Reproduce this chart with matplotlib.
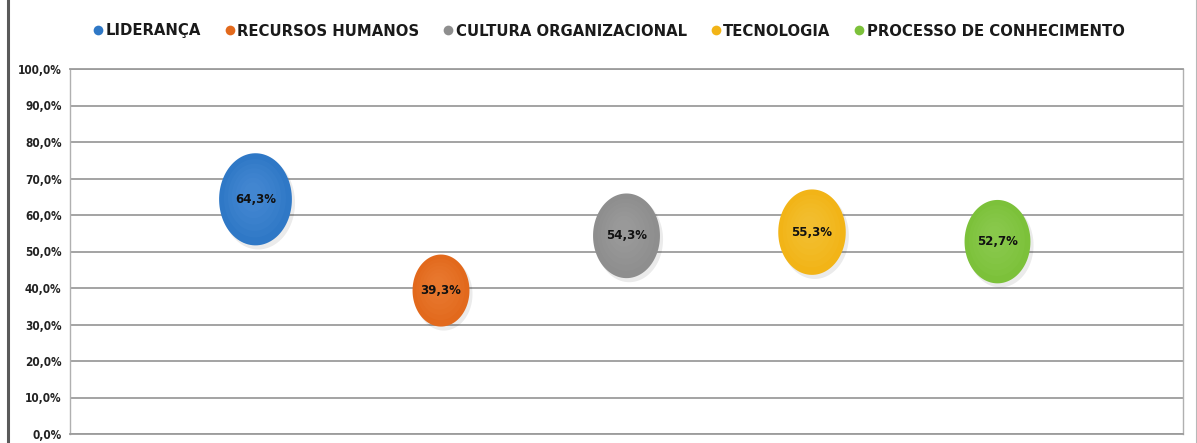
import numpy as np
import matplotlib
matplotlib.use("Agg")
import matplotlib.pyplot as plt
from matplotlib.path import Path
from matplotlib.lines import Line2D

# Data
categories = ["LIDERANÇA", "RECURSOS HUMANOS", "CULTURA ORGANIZACIONAL",
              "TECNOLOGIA", "PROCESSO DE CONHECIMENTO"]
values = [64.3, 39.3, 54.3, 55.3, 52.7]
colors = ["#2f78c6", "#e2691c", "#8e8e8e", "#f2b417", "#7cc13a"]
light_colors = ["#5b9ae0", "#f08a45", "#ababab", "#f8cc4c", "#9ad662"]
ytick_values = np.arange(0, 101, 10)
ytick_labels = [f"{v:.1f}%".replace(".", ",") for v in ytick_values]

# Upright ellipse marker (taller than wide)
theta = np.linspace(0, 2 * np.pi, 100)
ellipse = Path(np.column_stack([0.79 * np.cos(theta), np.sin(theta)]), closed=True)

fig = plt.figure(figsize=(11.97, 4.43), dpi=100)
ax = fig.add_axes([70 / 1197, 9 / 443, 1113 / 1197, 365 / 443])

x = np.arange(1, len(values) + 1)
base = 92.0  # marker height (pt) for the largest value
sizes = [(base * np.sqrt(v / max(values))) ** 2 * 0.52 for v in values]

# soft shadow, body and highlight of each bubble
ax.scatter(x + 0.015, np.array(values) - 1.0, s=[s * 1.02 for s in sizes],
           marker=ellipse, color="#000000", alpha=0.08, linewidths=0, zorder=3)
ax.scatter(x, values, s=sizes, marker=ellipse, c=colors, linewidths=0, zorder=4)
for k in range(6):
    f = 0.85 - k * 0.12
    ax.scatter(x - 0.02 * (1 - f), np.array(values) + 2.0 * (1 - f),
               s=[s * f * f for s in sizes], marker=ellipse,
               c=light_colors, alpha=0.10, linewidths=0, zorder=5)

for xi, v in zip(x, values):
    ax.text(xi, v, f"{v:.1f}%".replace(".", ","), ha="center", va="center",
            fontsize=8.5, fontweight="bold", color="#111111", zorder=6)

ax.set_xlim(0, len(values) + 1)
ax.set_ylim(0, 100)
ax.set_yticks(ytick_values)
ax.set_yticklabels(ytick_labels, fontsize=8.5, fontweight="bold",
                   fontstretch="condensed", color="#222222")
ax.tick_params(axis="y", length=0, pad=6)
ax.set_xticks([])
ax.yaxis.grid(True, color="#9c9c9c", linewidth=1.3)
ax.set_axisbelow(True)
for side in ["left", "right"]:
    ax.spines[side].set_color("#b0b0b0")
    ax.spines[side].set_linewidth(1.0)
for side in ["top", "bottom"]:
    ax.spines[side].set_color("#9c9c9c")
    ax.spines[side].set_linewidth(1.3)

# Legend across the top
handles = [Line2D([], [], marker="o", linestyle="none", markersize=7,
                  markerfacecolor=c, markeredgewidth=0) for c in colors]
fig.legend(handles, categories, loc="center left",
           bbox_to_anchor=(77 / 1197, 1 - 31 / 443), ncol=5, frameon=False,
           handletextpad=0.0, columnspacing=1.45, handlelength=1.0,
           prop={"size": 10.7, "weight": "bold", "family": "DejaVu Sans"},
           labelcolor="#1a1a1a")

# page borders
fig.add_artist(Line2D([8 / 1197, 8 / 1197], [0, 1], color="#5a5a5a", linewidth=2.2))
fig.add_artist(Line2D([1195.5 / 1197, 1195.5 / 1197], [0, 1], color="#b8b8b8", linewidth=0.8))

fig.savefig("out.png", dpi=100, facecolor="white")
